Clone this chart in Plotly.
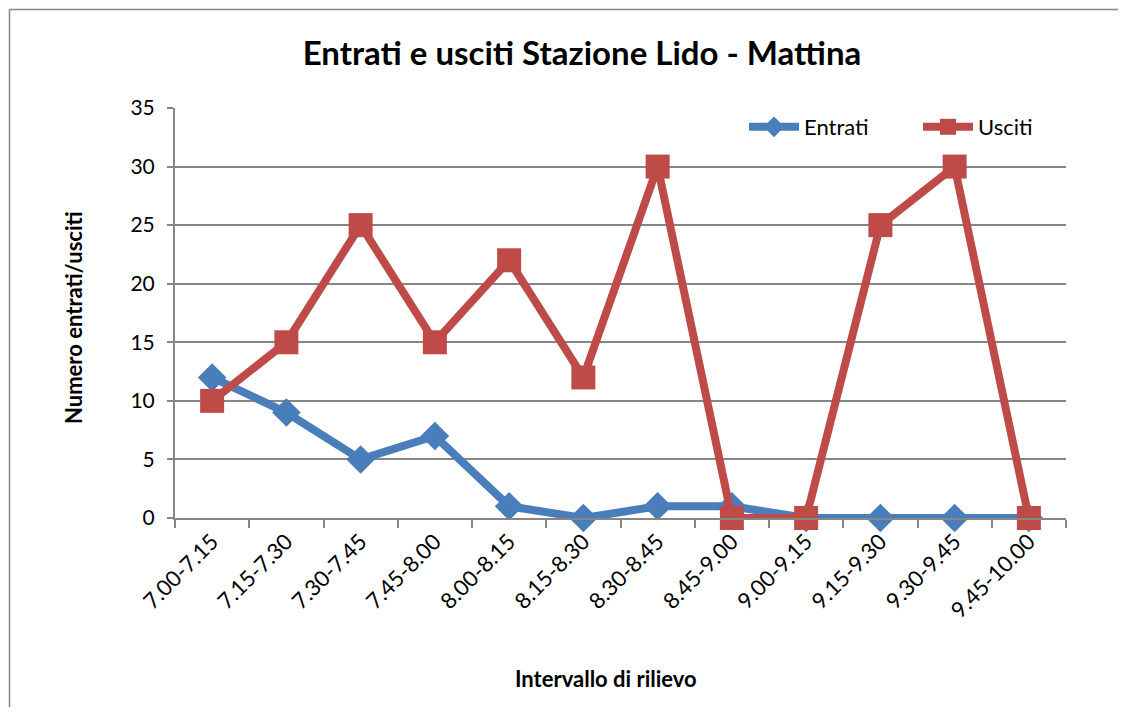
import plotly.graph_objects as go

categories = ["7.00-7.15", "7.15-7.30", "7.30-7.45", "7.45-8.00", "8.00-8.15", "8.15-8.30",
              "8.30-8.45", "8.45-9.00", "9.00-9.15", "9.15-9.30", "9.30-9.45", "9.45-10.00"]
entrati = [12, 9, 5, 7, 1, 0, 1, 1, 0, 0, 0, 0]
usciti = [10, 15, 25, 15, 22, 12, 30, 0, 0, 25, 30, 0]
y_ticks = [0, 5, 10, 15, 20, 25, 30, 35]

FONT = "Lato"
BLUE = "#4A7EBB"
RED = "#BE4B48"
GRID = "#868686"

OFF = 8  # page body margin offset
W, H = 1126 - 2 * OFF, 715 - 2 * OFF
L, R, T, B = 175, 1066, 108, 518
PW, PH = R - L, B - T


def px(x):
    return (x - L) / PW


def py(y):
    return (B - y) / PH


fig = go.Figure()
fig.add_trace(go.Scatter(
    x=categories, y=entrati, name="Entrati", mode="lines+markers",
    line=dict(color=BLUE, width=8),
    marker=dict(symbol="diamond", size=22, color=BLUE),
    cliponaxis=False, legend="legend",
))
fig.add_trace(go.Scatter(
    x=categories, y=usciti, name="Usciti", mode="lines+markers",
    line=dict(color=RED, width=8),
    marker=dict(symbol="square", size=24, color=RED),
    cliponaxis=False, legend="legend2",
))

leg_common = dict(bgcolor="rgba(0,0,0,0)", font=dict(size=22, family=FONT),
                  itemwidth=50, xanchor="left", yanchor="middle",
                  borderwidth=0, tracegroupgap=0)

fig.update_layout(
    width=W, height=H,
    margin=dict(l=L - OFF, r=W - (R - OFF), t=T - OFF, b=H - (B - OFF), autoexpand=False),
    paper_bgcolor="white", plot_bgcolor="white",
    font=dict(family=FONT, color="black", size=21),
    title=dict(text="<b>Entrati e usciti Stazione Lido - Mattina</b>",
               xref="paper", x=px(582), xanchor="center",
               yref="container", y=1 - (53 - OFF) / H, yanchor="middle",
               font=dict(size=33, family=FONT)),
    showlegend=True,
    legend=dict(x=px(744), y=py(127), **leg_common),
    legend2=dict(x=px(918), y=py(127), **leg_common),
)

fig.update_xaxes(
    type="category", categoryorder="array", categoryarray=categories,
    tickangle=-45, tickson="boundaries", ticks="outside", ticklen=8,
    tickwidth=2, tickcolor=GRID, showline=True, linecolor=GRID, linewidth=2,
    showgrid=False, tickfont=dict(size=22, family=FONT),
    range=[-0.5, len(categories) - 0.5], automargin=False,
)
fig.update_yaxes(
    range=[0, 35], tickvals=y_ticks, ticks="outside", ticklen=6, tickwidth=2,
    tickcolor=GRID, showline=True, linecolor=GRID, linewidth=2,
    showgrid=True, gridcolor=GRID, gridwidth=1.5, zeroline=False,
    tickfont=dict(size=21, family=FONT), ticklabelstandoff=8, automargin=False,
)

fig.add_annotation(text="<b>Numero entrati/usciti</b>", xref="paper", yref="paper",
                   x=px(73), y=py(318), textangle=-90,
                   showarrow=False, font=dict(size=22, family=FONT),
                   xanchor="center", yanchor="middle")
fig.add_annotation(text="<b>Intervallo di rilievo</b>", xref="paper", yref="paper",
                   x=px(606), y=py(678),
                   showarrow=False, font=dict(size=22, family=FONT),
                   xanchor="center", yanchor="middle")

# chart frame (only left and top edges are visible in the reference)
fig.add_shape(type="line", xref="paper", yref="paper",
              x0=px(9.5), x1=px(9.5), y0=py(730), y1=py(9.5),
              line=dict(color=GRID, width=1.5), layer="below")
fig.add_shape(type="line", xref="paper", yref="paper",
              x0=px(9.5), x1=px(1140), y0=py(9.5), y1=py(9.5),
              line=dict(color=GRID, width=1.5), layer="below")

fig.write_html("out.html")
